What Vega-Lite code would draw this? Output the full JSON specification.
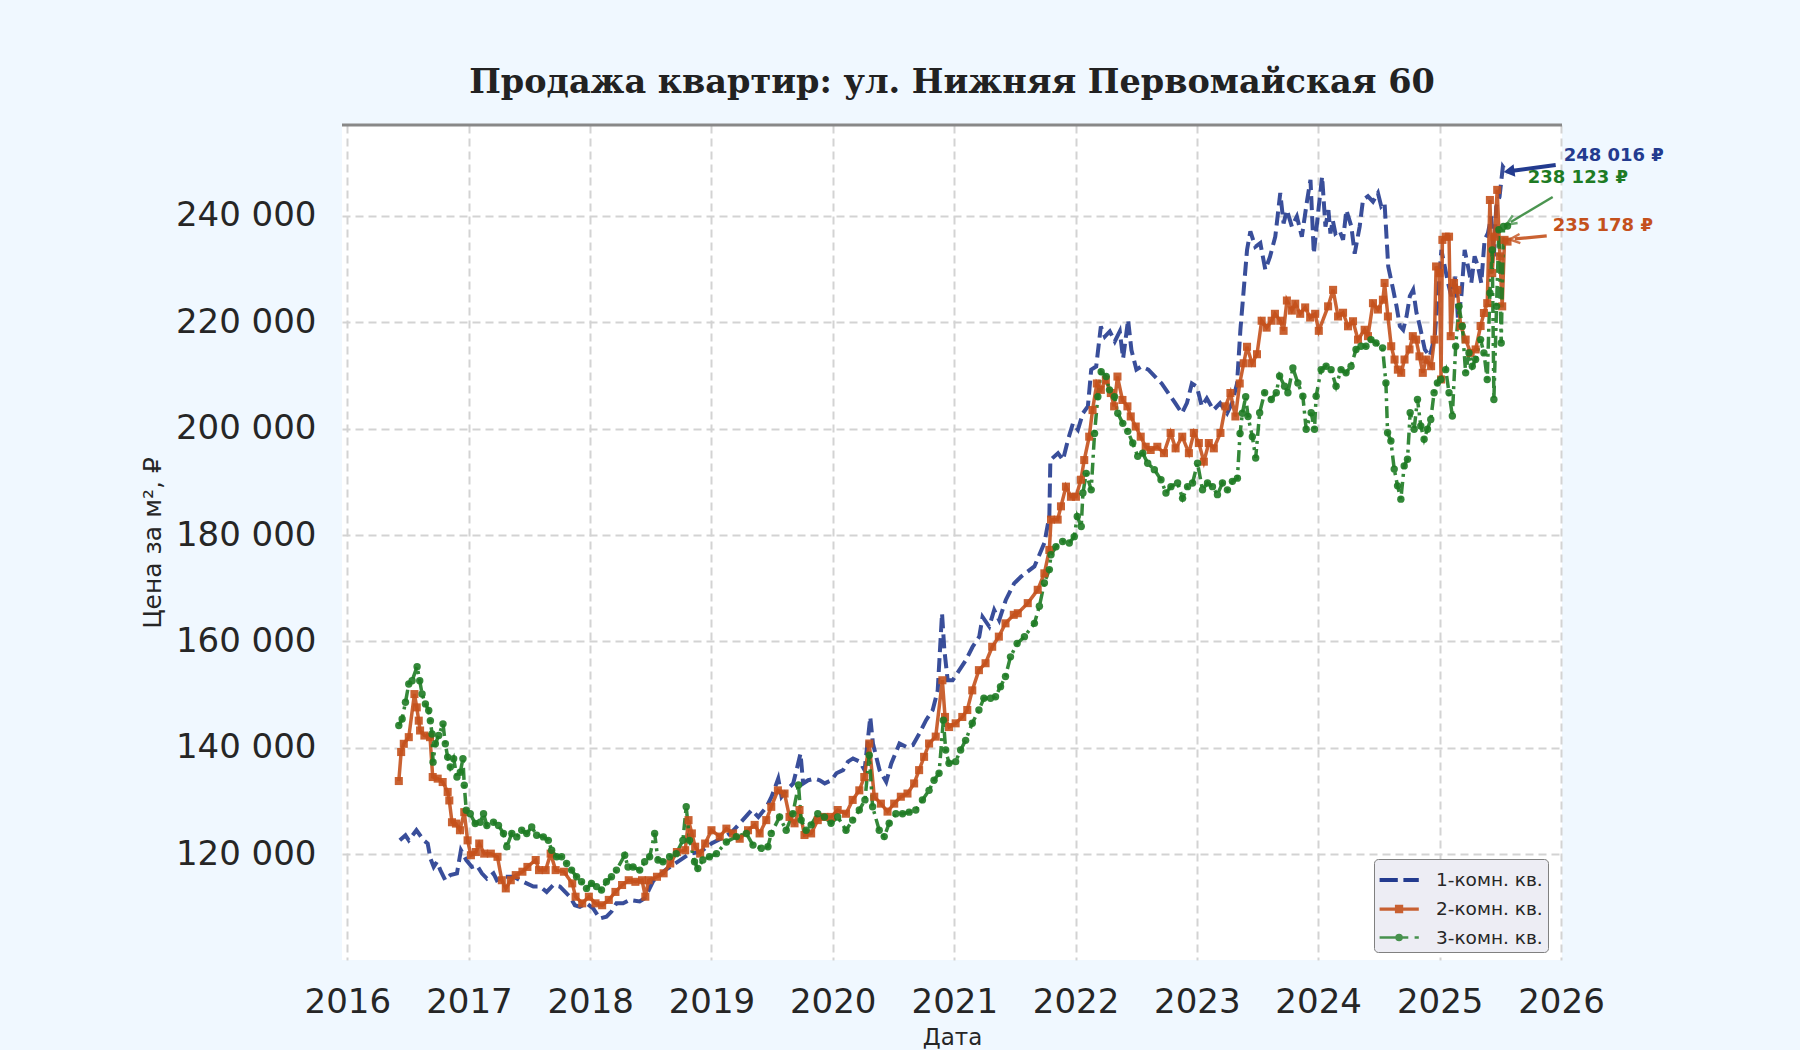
{
"$schema":"https://vega.github.io/schema/vega-lite/v6.json",
"width":1220,"height":835,
"autosize":"none",
"padding":{"left":342,"top":125,"right":238,"bottom":90},
"background":"#f0f8ff",
"config":{"view":{"fill":"#ffffff","stroke":null},"font":"DejaVu Sans"},
"title":{"text":"Продажа квартир: ул. Нижняя Первомайская 60","font":"DejaVu Serif","fontSize":33.5,"fontWeight":"bold","color":"#222222","anchor":"middle","offset":23},
"datasets":{
"ann":[
{"s":"1","d1":"2025-12-16","v1":249590,"d2":"2025-08-03","v2":248460,"td":"2026-01-09","tv":251280,"t":"248 016 ₽"},
{"s":"3","d1":"2025-12-07","v1":243570,"d2":"2025-08-03","v2":238870,"td":"2025-09-23","tv":247150,"t":"238 123 ₽"},
{"s":"2","d1":"2025-11-19","v1":236240,"d2":"2025-08-15","v2":235670,"td":"2025-12-07","tv":238120,"t":"235 178 ₽"}
],
"p":[
{"d":"2016-06-07","s":"1","v":122600},{"d":"2016-06-24","s":"1","v":123550},{"d":"2016-07-04","s":"1","v":122600},{"d":"2016-07-27","s":"1","v":124500},{"d":"2016-08-18","s":"1","v":122600},{"d":"2016-08-30","s":"1","v":122000},{"d":"2016-09-07","s":"1","v":119200},{"d":"2016-09-17","s":"1","v":117600},{"d":"2016-09-27","s":"1","v":118560},{"d":"2016-10-07","s":"1","v":117000},{"d":"2016-10-22","s":"1","v":115100},{"d":"2016-11-06","s":"1","v":116060},{"d":"2016-11-26","s":"1","v":116400},{"d":"2016-12-08","s":"1","v":120750},{"d":"2016-12-24","s":"1","v":118900},
{"d":"2017-01-10","s":"1","v":117600},{"d":"2017-01-25","s":"1","v":117900},{"d":"2017-02-09","s":"1","v":116400},{"d":"2017-02-24","s":"1","v":115400},{"d":"2017-03-16","s":"1","v":116400},{"d":"2017-03-26","s":"1","v":115100},{"d":"2017-04-15","s":"1","v":115750},{"d":"2017-05-15","s":"1","v":115750},{"d":"2017-06-14","s":"1","v":114800},{"d":"2017-07-14","s":"1","v":113900},{"d":"2017-08-03","s":"1","v":113900},{"d":"2017-08-23","s":"1","v":112900},{"d":"2017-09-12","s":"1","v":114200},{"d":"2017-10-02","s":"1","v":113900},{"d":"2017-11-01","s":"1","v":112000},{"d":"2017-11-16","s":"1","v":110400},{"d":"2017-12-01","s":"1","v":110100},{"d":"2017-12-21","s":"1","v":110750},
{"d":"2018-01-10","s":"1","v":109800},{"d":"2018-01-30","s":"1","v":107900},{"d":"2018-02-19","s":"1","v":108250},{"d":"2018-03-06","s":"1","v":109200},{"d":"2018-03-21","s":"1","v":110750},{"d":"2018-04-10","s":"1","v":110750},{"d":"2018-04-30","s":"1","v":111400},{"d":"2018-05-30","s":"1","v":111100},{"d":"2018-06-14","s":"1","v":111700},{"d":"2018-07-10","s":"1","v":115000},{"d":"2018-08-15","s":"1","v":117000},{"d":"2018-09-20","s":"1","v":118500},{"d":"2018-10-25","s":"1","v":120000},{"d":"2018-12-01","s":"1","v":120500},
{"d":"2019-01-01","s":"1","v":122000},{"d":"2019-02-01","s":"1","v":123000},{"d":"2019-03-01","s":"1","v":124000},{"d":"2019-03-27","s":"1","v":125770},{"d":"2019-05-02","s":"1","v":128280},{"d":"2019-05-22","s":"1","v":127000},{"d":"2019-06-16","s":"1","v":128900},{"d":"2019-07-01","s":"1","v":130800},{"d":"2019-07-21","s":"1","v":134200},{"d":"2019-07-31","s":"1","v":130800},{"d":"2019-08-15","s":"1","v":132000},{"d":"2019-09-04","s":"1","v":133300},{"d":"2019-09-14","s":"1","v":135800},{"d":"2019-09-26","s":"1","v":138900},{"d":"2019-10-04","s":"1","v":133300},{"d":"2019-10-19","s":"1","v":133900},{"d":"2019-11-08","s":"1","v":134200},{"d":"2019-11-23","s":"1","v":133900},{"d":"2019-12-08","s":"1","v":133300},{"d":"2019-12-28","s":"1","v":133900},
{"d":"2020-01-12","s":"1","v":135200},{"d":"2020-02-01","s":"1","v":135800},{"d":"2020-02-16","s":"1","v":137400},{"d":"2020-03-02","s":"1","v":138000},{"d":"2020-03-22","s":"1","v":137400},{"d":"2020-04-06","s":"1","v":135800},{"d":"2020-04-23","s":"1","v":145800},{"d":"2020-05-01","s":"1","v":140800},{"d":"2020-05-21","s":"1","v":135800},{"d":"2020-06-10","s":"1","v":133600},{"d":"2020-06-25","s":"1","v":137000},{"d":"2020-07-20","s":"1","v":140800},{"d":"2020-08-09","s":"1","v":140200},{"d":"2020-08-29","s":"1","v":140500},{"d":"2020-09-18","s":"1","v":142700},{"d":"2020-10-08","s":"1","v":145200},{"d":"2020-10-28","s":"1","v":147100},{"d":"2020-11-12","s":"1","v":150800},{"d":"2020-11-25","s":"1","v":165300},{"d":"2020-12-02","s":"1","v":158400},{"d":"2020-12-12","s":"1","v":152700},{"d":"2020-12-27","s":"1","v":152700},
{"d":"2021-01-16","s":"1","v":154600},{"d":"2021-02-05","s":"1","v":156500},{"d":"2021-02-25","s":"1","v":159000},{"d":"2021-03-17","s":"1","v":160900},{"d":"2021-03-27","s":"1","v":164600},{"d":"2021-04-16","s":"1","v":162800},{"d":"2021-05-01","s":"1","v":165900},{"d":"2021-05-16","s":"1","v":164000},{"d":"2021-06-05","s":"1","v":167800},{"d":"2021-06-30","s":"1","v":170900},{"d":"2021-07-21","s":"1","v":172200},{"d":"2021-08-30","s":"1","v":174100},{"d":"2021-09-29","s":"1","v":178500},{"d":"2021-10-14","s":"1","v":183500},{"d":"2021-10-17","s":"1","v":194100},{"d":"2021-11-09","s":"1","v":195400},{"d":"2021-11-24","s":"1","v":194100},{"d":"2021-12-09","s":"1","v":197900},{"d":"2021-12-24","s":"1","v":201000},
{"d":"2022-01-08","s":"1","v":199800},{"d":"2022-01-23","s":"1","v":202900},{"d":"2022-02-07","s":"1","v":204200},{"d":"2022-02-17","s":"1","v":211100},{"d":"2022-03-04","s":"1","v":211700},{"d":"2022-03-18","s":"1","v":219200},{"d":"2022-03-30","s":"1","v":217300},{"d":"2022-04-14","s":"1","v":218300},{"d":"2022-04-29","s":"1","v":216400},{"d":"2022-05-14","s":"1","v":218300},{"d":"2022-05-24","s":"1","v":213200},{"d":"2022-06-08","s":"1","v":220500},{"d":"2022-06-18","s":"1","v":214800},{"d":"2022-07-03","s":"1","v":211100},{"d":"2022-07-18","s":"1","v":211700},{"d":"2022-08-08","s":"1","v":211100},{"d":"2022-08-28","s":"1","v":209800},{"d":"2022-09-17","s":"1","v":208500},{"d":"2022-10-07","s":"1","v":206700},{"d":"2022-10-28","s":"1","v":204800},{"d":"2022-11-17","s":"1","v":202900},{"d":"2022-12-02","s":"1","v":204800},{"d":"2022-12-17","s":"1","v":208500},
{"d":"2023-01-01","s":"1","v":207900},{"d":"2023-01-16","s":"1","v":204200},{"d":"2023-01-31","s":"1","v":205700},{"d":"2023-02-20","s":"1","v":203500},{"d":"2023-03-12","s":"1","v":204800},{"d":"2023-04-02","s":"1","v":202900},{"d":"2023-04-17","s":"1","v":204800},{"d":"2023-05-02","s":"1","v":208500},{"d":"2023-05-12","s":"1","v":218600},{"d":"2023-05-22","s":"1","v":226100},{"d":"2023-06-01","s":"1","v":233600},{"d":"2023-06-11","s":"1","v":237100},{"d":"2023-06-26","s":"1","v":234200},{"d":"2023-07-11","s":"1","v":234900},{"d":"2023-07-26","s":"1","v":229900},{"d":"2023-08-09","s":"1","v":232300},{"d":"2023-08-25","s":"1","v":236100},{"d":"2023-09-09","s":"1","v":244300},{"d":"2023-09-19","s":"1","v":238600},{"d":"2023-09-29","s":"1","v":241100},{"d":"2023-10-14","s":"1","v":238000},{"d":"2023-10-29","s":"1","v":239900},{"d":"2023-11-13","s":"1","v":236100},{"d":"2023-11-29","s":"1","v":243000},{"d":"2023-12-09","s":"1","v":246800},{"d":"2023-12-19","s":"1","v":232900},
{"d":"2024-01-03","s":"1","v":241800},{"d":"2024-01-13","s":"1","v":247400},{"d":"2024-01-23","s":"1","v":238000},{"d":"2024-02-01","s":"1","v":241100},{"d":"2024-02-07","s":"1","v":236700},{"d":"2024-02-14","s":"1","v":239200},{"d":"2024-02-22","s":"1","v":236700},{"d":"2024-03-05","s":"1","v":237300},{"d":"2024-03-16","s":"1","v":235500},{"d":"2024-03-26","s":"1","v":241100},{"d":"2024-04-10","s":"1","v":238000},{"d":"2024-04-20","s":"1","v":232900},{"d":"2024-05-05","s":"1","v":238000},{"d":"2024-05-15","s":"1","v":243000},{"d":"2024-05-30","s":"1","v":243700},{"d":"2024-06-14","s":"1","v":242700},{"d":"2024-06-29","s":"1","v":244300},{"d":"2024-07-09","s":"1","v":241800},{"d":"2024-07-19","s":"1","v":242400},{"d":"2024-07-30","s":"1","v":230500},{"d":"2024-08-14","s":"1","v":226100},{"d":"2024-08-24","s":"1","v":223000},{"d":"2024-09-03","s":"1","v":219300},{"d":"2024-09-13","s":"1","v":218600},{"d":"2024-09-23","s":"1","v":221100},{"d":"2024-10-03","s":"1","v":224900},{"d":"2024-10-13","s":"1","v":226100},{"d":"2024-10-23","s":"1","v":221800},{"d":"2024-11-02","s":"1","v":219300},{"d":"2024-11-17","s":"1","v":214900},{"d":"2024-12-02","s":"1","v":213600},{"d":"2024-12-17","s":"1","v":217400},{"d":"2024-12-27","s":"1","v":225500},
{"d":"2025-01-06","s":"1","v":233600},{"d":"2025-01-16","s":"1","v":230500},{"d":"2025-01-26","s":"1","v":227400},{"d":"2025-02-05","s":"1","v":224900},{"d":"2025-02-17","s":"1","v":228600},{"d":"2025-02-25","s":"1","v":220500},{"d":"2025-03-07","s":"1","v":224900},{"d":"2025-03-17","s":"1","v":233600},{"d":"2025-03-27","s":"1","v":230500},{"d":"2025-04-06","s":"1","v":227400},{"d":"2025-04-16","s":"1","v":232400},{"d":"2025-04-26","s":"1","v":230500},{"d":"2025-05-06","s":"1","v":227400},{"d":"2025-05-16","s":"1","v":235500},{"d":"2025-05-26","s":"1","v":236750},{"d":"2025-06-05","s":"1","v":239900},{"d":"2025-06-13","s":"1","v":232400},{"d":"2025-06-20","s":"1","v":241750},{"d":"2025-06-30","s":"1","v":243600},{"d":"2025-07-10","s":"1","v":249250},{"d":"2025-07-24","s":"1","v":248016},

{"d":"2016-06-04","s":"2","v":133750},{"d":"2016-06-11","s":"2","v":139200},{"d":"2016-06-19","s":"2","v":140750},{"d":"2016-07-04","s":"2","v":142000},{"d":"2016-07-21","s":"2","v":150100},{"d":"2016-07-28","s":"2","v":147600},{"d":"2016-08-03","s":"2","v":145100},{"d":"2016-08-07","s":"2","v":143250},{"d":"2016-08-20","s":"2","v":142300},{"d":"2016-09-06","s":"2","v":142000},{"d":"2016-09-14","s":"2","v":134500},{"d":"2016-09-29","s":"2","v":134200},{"d":"2016-10-14","s":"2","v":133560},{"d":"2016-10-29","s":"2","v":131700},{"d":"2016-11-03","s":"2","v":130100},{"d":"2016-11-11","s":"2","v":126000},{"d":"2016-11-23","s":"2","v":125750},{"d":"2016-12-05","s":"2","v":124500},{"d":"2016-12-18","s":"2","v":127900},{"d":"2016-12-28","s":"2","v":122600},
{"d":"2017-01-07","s":"2","v":119800},{"d":"2017-01-22","s":"2","v":120400},{"d":"2017-02-01","s":"2","v":122000},{"d":"2017-02-16","s":"2","v":120100},{"d":"2017-03-08","s":"2","v":120100},{"d":"2017-03-28","s":"2","v":119500},{"d":"2017-04-10","s":"2","v":115100},{"d":"2017-04-22","s":"2","v":113560},{"d":"2017-05-07","s":"2","v":115100},{"d":"2017-05-22","s":"2","v":116060},{"d":"2017-06-11","s":"2","v":116700},{"d":"2017-06-26","s":"2","v":117600},{"d":"2017-07-21","s":"2","v":118900},{"d":"2017-07-31","s":"2","v":117000},{"d":"2017-08-20","s":"2","v":117000},{"d":"2017-09-04","s":"2","v":120100},{"d":"2017-09-19","s":"2","v":117000},{"d":"2017-10-14","s":"2","v":116700},{"d":"2017-11-08","s":"2","v":114500},{"d":"2017-11-18","s":"2","v":112000},{"d":"2017-12-08","s":"2","v":110750},{"d":"2017-12-28","s":"2","v":112000},
{"d":"2018-01-17","s":"2","v":110750},{"d":"2018-02-06","s":"2","v":110400},{"d":"2018-02-26","s":"2","v":111400},{"d":"2018-03-18","s":"2","v":112900},{"d":"2018-04-07","s":"2","v":114200},{"d":"2018-04-27","s":"2","v":115100},{"d":"2018-05-17","s":"2","v":114800},{"d":"2018-06-06","s":"2","v":115100},{"d":"2018-06-16","s":"2","v":112000},{"d":"2018-06-26","s":"2","v":115100},{"d":"2018-07-21","s":"2","v":115750},{"d":"2018-08-10","s":"2","v":116400},{"d":"2018-08-30","s":"2","v":118250},{"d":"2018-09-19","s":"2","v":120400},{"d":"2018-10-14","s":"2","v":120750},{"d":"2018-10-24","s":"2","v":126400},{"d":"2018-11-03","s":"2","v":123900},{"d":"2018-11-13","s":"2","v":121400},{"d":"2018-11-28","s":"2","v":120100},{"d":"2018-12-13","s":"2","v":122000},
{"d":"2019-01-01","s":"2","v":124500},{"d":"2019-01-26","s":"2","v":123300},{"d":"2019-02-15","s":"2","v":124800},{"d":"2019-03-07","s":"2","v":123900},{"d":"2019-03-27","s":"2","v":122900},{"d":"2019-04-21","s":"2","v":124500},{"d":"2019-05-11","s":"2","v":125500},{"d":"2019-05-26","s":"2","v":123900},{"d":"2019-06-15","s":"2","v":126400},{"d":"2019-06-30","s":"2","v":128900},{"d":"2019-07-20","s":"2","v":132000},{"d":"2019-08-09","s":"2","v":131400},{"d":"2019-08-24","s":"2","v":127000},{"d":"2019-09-08","s":"2","v":125800},{"d":"2019-09-23","s":"2","v":128300},{"d":"2019-10-08","s":"2","v":123600},{"d":"2019-10-28","s":"2","v":123900},{"d":"2019-11-17","s":"2","v":126400},{"d":"2019-12-07","s":"2","v":127000},{"d":"2019-12-27","s":"2","v":127000},
{"d":"2020-01-16","s":"2","v":128300},{"d":"2020-02-10","s":"2","v":127600},{"d":"2020-03-01","s":"2","v":130200},{"d":"2020-03-21","s":"2","v":132000},{"d":"2020-04-05","s":"2","v":134500},{"d":"2020-04-20","s":"2","v":140800},{"d":"2020-05-05","s":"2","v":130800},{"d":"2020-05-25","s":"2","v":129500},{"d":"2020-06-14","s":"2","v":128000},{"d":"2020-07-04","s":"2","v":129500},{"d":"2020-07-24","s":"2","v":130800},{"d":"2020-08-13","s":"2","v":131400},{"d":"2020-09-02","s":"2","v":133300},{"d":"2020-09-17","s":"2","v":135800},{"d":"2020-10-02","s":"2","v":138300},{"d":"2020-10-17","s":"2","v":140800},{"d":"2020-11-06","s":"2","v":142100},{"d":"2020-11-26","s":"2","v":152700},{"d":"2020-12-04","s":"2","v":145800},{"d":"2020-12-16","s":"2","v":143900},
{"d":"2021-01-05","s":"2","v":144600},{"d":"2021-01-25","s":"2","v":145800},{"d":"2021-02-09","s":"2","v":147100},{"d":"2021-02-24","s":"2","v":150800},{"d":"2021-03-16","s":"2","v":154600},{"d":"2021-04-05","s":"2","v":155900},{"d":"2021-04-25","s":"2","v":159000},{"d":"2021-05-15","s":"2","v":160900},{"d":"2021-06-04","s":"2","v":163400},{"d":"2021-06-29","s":"2","v":165000},{"d":"2021-07-11","s":"2","v":165300},{"d":"2021-08-10","s":"2","v":167200},{"d":"2021-09-09","s":"2","v":169700},{"d":"2021-09-29","s":"2","v":172800},{"d":"2021-10-14","s":"2","v":177200},{"d":"2021-10-19","s":"2","v":182900},{"d":"2021-11-08","s":"2","v":182900},{"d":"2021-11-18","s":"2","v":185400},{"d":"2021-12-03","s":"2","v":189100},{"d":"2021-12-18","s":"2","v":187200},
{"d":"2022-01-02","s":"2","v":187200},{"d":"2022-01-17","s":"2","v":190400},{"d":"2022-01-27","s":"2","v":194100},{"d":"2022-02-11","s":"2","v":198500},{"d":"2022-02-21","s":"2","v":203500},{"d":"2022-03-06","s":"2","v":208500},{"d":"2022-03-18","s":"2","v":207300},{"d":"2022-04-02","s":"2","v":209200},{"d":"2022-04-17","s":"2","v":206700},{"d":"2022-04-27","s":"2","v":204200},{"d":"2022-05-07","s":"2","v":209800},{"d":"2022-05-22","s":"2","v":205400},{"d":"2022-06-06","s":"2","v":204200},{"d":"2022-06-16","s":"2","v":202300},{"d":"2022-07-01","s":"2","v":200400},{"d":"2022-07-16","s":"2","v":198500},{"d":"2022-07-31","s":"2","v":196600},{"d":"2022-08-15","s":"2","v":196000},{"d":"2022-09-04","s":"2","v":196600},{"d":"2022-09-24","s":"2","v":195400},{"d":"2022-10-14","s":"2","v":199200},{"d":"2022-10-29","s":"2","v":196300},{"d":"2022-11-18","s":"2","v":198500},{"d":"2022-12-08","s":"2","v":195400},{"d":"2022-12-23","s":"2","v":199200},
{"d":"2023-01-07","s":"2","v":197300},{"d":"2023-01-22","s":"2","v":193800},{"d":"2023-02-06","s":"2","v":197300},{"d":"2023-02-21","s":"2","v":196300},{"d":"2023-03-13","s":"2","v":199200},{"d":"2023-03-28","s":"2","v":204200},{"d":"2023-04-12","s":"2","v":206700},{"d":"2023-04-27","s":"2","v":202300},{"d":"2023-05-10","s":"2","v":208500},{"d":"2023-05-22","s":"2","v":212300},{"d":"2023-06-01","s":"2","v":215400},{"d":"2023-06-16","s":"2","v":212300},{"d":"2023-07-01","s":"2","v":214000},{"d":"2023-07-15","s":"2","v":220300},{"d":"2023-07-30","s":"2","v":219000},{"d":"2023-08-14","s":"2","v":220300},{"d":"2023-08-24","s":"2","v":221600},{"d":"2023-09-09","s":"2","v":220300},{"d":"2023-09-19","s":"2","v":218400},{"d":"2023-09-29","s":"2","v":224100},{"d":"2023-10-14","s":"2","v":222200},{"d":"2023-10-24","s":"2","v":223500},{"d":"2023-11-08","s":"2","v":221600},{"d":"2023-11-23","s":"2","v":222800},{"d":"2023-12-08","s":"2","v":220900},{"d":"2023-12-23","s":"2","v":221600},
{"d":"2024-01-03","s":"2","v":218400},{"d":"2024-01-31","s":"2","v":223000},{"d":"2024-02-15","s":"2","v":226100},{"d":"2024-03-01","s":"2","v":221100},{"d":"2024-03-16","s":"2","v":221800},{"d":"2024-03-31","s":"2","v":219250},{"d":"2024-04-15","s":"2","v":220200},{"d":"2024-04-30","s":"2","v":216750},{"d":"2024-05-20","s":"2","v":218600},{"d":"2024-05-30","s":"2","v":217400},{"d":"2024-06-14","s":"2","v":223600},{"d":"2024-06-29","s":"2","v":222400},{"d":"2024-07-14","s":"2","v":224250},{"d":"2024-07-19","s":"2","v":227400},{"d":"2024-07-29","s":"2","v":221100},{"d":"2024-08-08","s":"2","v":215500},{"d":"2024-08-18","s":"2","v":213000},{"d":"2024-08-28","s":"2","v":211100},{"d":"2024-09-07","s":"2","v":210500},{"d":"2024-09-17","s":"2","v":213000},{"d":"2024-10-02","s":"2","v":214900},{"d":"2024-10-12","s":"2","v":217400},{"d":"2024-10-22","s":"2","v":216750},{"d":"2024-11-01","s":"2","v":213600},{"d":"2024-11-11","s":"2","v":210500},{"d":"2024-11-21","s":"2","v":213000},{"d":"2024-12-06","s":"2","v":211750},{"d":"2024-12-16","s":"2","v":216750},{"d":"2024-12-21","s":"2","v":230500},{"d":"2024-12-31","s":"2","v":229250},
{"d":"2025-01-05","s":"2","v":209250},{"d":"2025-01-09","s":"2","v":235500},{"d":"2025-01-19","s":"2","v":236100},{"d":"2025-01-29","s":"2","v":236100},{"d":"2025-02-03","s":"2","v":217400},{"d":"2025-02-13","s":"2","v":227400},{"d":"2025-02-23","s":"2","v":226100},{"d":"2025-03-05","s":"2","v":219300},{"d":"2025-03-20","s":"2","v":216750},{"d":"2025-04-04","s":"2","v":214250},{"d":"2025-04-19","s":"2","v":214900},{"d":"2025-05-04","s":"2","v":219300},{"d":"2025-05-14","s":"2","v":221750},{"d":"2025-05-24","s":"2","v":223600},{"d":"2025-06-01","s":"2","v":243000},{"d":"2025-06-08","s":"2","v":229250},{"d":"2025-06-15","s":"2","v":236100},{"d":"2025-06-23","s":"2","v":244900},{"d":"2025-07-01","s":"2","v":232400},{"d":"2025-07-08","s":"2","v":223000},{"d":"2025-07-15","s":"2","v":235500},{"d":"2025-07-24","s":"2","v":235178},

{"d":"2016-06-04","s":"3","v":144200},{"d":"2016-06-14","s":"3","v":145400},{"d":"2016-06-24","s":"3","v":148550},{"d":"2016-07-04","s":"3","v":152000},{"d":"2016-07-14","s":"3","v":152600},{"d":"2016-07-29","s":"3","v":155250},{"d":"2016-08-06","s":"3","v":152600},{"d":"2016-08-13","s":"3","v":150100},{"d":"2016-08-23","s":"3","v":148250},{"d":"2016-09-02","s":"3","v":147000},{"d":"2016-09-07","s":"3","v":145100},{"d":"2016-09-12","s":"3","v":142600},{"d":"2016-09-15","s":"3","v":137300},{"d":"2016-09-22","s":"3","v":140750},{"d":"2016-10-02","s":"3","v":142300},{"d":"2016-10-15","s":"3","v":144500},{"d":"2016-10-22","s":"3","v":140750},{"d":"2016-10-29","s":"3","v":138250},{"d":"2016-11-06","s":"3","v":136400},{"d":"2016-11-16","s":"3","v":137950},{"d":"2016-11-26","s":"3","v":134500},{"d":"2016-12-06","s":"3","v":135400},{"d":"2016-12-14","s":"3","v":137950},{"d":"2016-12-18","s":"3","v":132950},{"d":"2016-12-24","s":"3","v":128250},
{"d":"2017-01-05","s":"3","v":127600},{"d":"2017-01-20","s":"3","v":125750},{"d":"2017-02-04","s":"3","v":126000},{"d":"2017-02-14","s":"3","v":127600},{"d":"2017-02-24","s":"3","v":125400},{"d":"2017-03-16","s":"3","v":126000},{"d":"2017-03-31","s":"3","v":125400},{"d":"2017-04-15","s":"3","v":123900},{"d":"2017-04-25","s":"3","v":121400},{"d":"2017-05-10","s":"3","v":123900},{"d":"2017-05-25","s":"3","v":123250},{"d":"2017-06-09","s":"3","v":124500},{"d":"2017-06-24","s":"3","v":123900},{"d":"2017-07-09","s":"3","v":125100},{"d":"2017-07-24","s":"3","v":123550},{"d":"2017-08-13","s":"3","v":123250},{"d":"2017-08-28","s":"3","v":122600},{"d":"2017-09-07","s":"3","v":120750},{"d":"2017-09-22","s":"3","v":119500},{"d":"2017-10-07","s":"3","v":119500},{"d":"2017-10-22","s":"3","v":118250},{"d":"2017-11-06","s":"3","v":117000},{"d":"2017-11-21","s":"3","v":115750},{"d":"2017-12-06","s":"3","v":114800},{"d":"2017-12-21","s":"3","v":113560},
{"d":"2018-01-05","s":"3","v":114500},{"d":"2018-01-20","s":"3","v":113900},{"d":"2018-02-04","s":"3","v":113250},{"d":"2018-02-19","s":"3","v":114800},{"d":"2018-03-06","s":"3","v":115750},{"d":"2018-03-21","s":"3","v":117000},{"d":"2018-04-15","s":"3","v":119800},{"d":"2018-04-25","s":"3","v":117600},{"d":"2018-05-10","s":"3","v":117600},{"d":"2018-05-30","s":"3","v":117000},{"d":"2018-06-14","s":"3","v":118560},{"d":"2018-06-29","s":"3","v":119500},{"d":"2018-07-14","s":"3","v":123900},{"d":"2018-07-24","s":"3","v":118900},{"d":"2018-08-08","s":"3","v":118560},{"d":"2018-08-28","s":"3","v":119500},{"d":"2018-09-17","s":"3","v":120100},{"d":"2018-10-07","s":"3","v":122600},{"d":"2018-10-17","s":"3","v":128900},{"d":"2018-10-27","s":"3","v":122600},{"d":"2018-11-11","s":"3","v":118560},{"d":"2018-11-21","s":"3","v":117300},{"d":"2018-12-06","s":"3","v":118900},{"d":"2018-12-26","s":"3","v":119500},
{"d":"2019-01-16","s":"3","v":120100},{"d":"2019-02-15","s":"3","v":122300},{"d":"2019-03-17","s":"3","v":123300},{"d":"2019-04-16","s":"3","v":123900},{"d":"2019-05-06","s":"3","v":121700},{"d":"2019-05-31","s":"3","v":121100},{"d":"2019-06-20","s":"3","v":121400},{"d":"2019-06-30","s":"3","v":123900},{"d":"2019-07-25","s":"3","v":127000},{"d":"2019-08-14","s":"3","v":124500},{"d":"2019-09-03","s":"3","v":127600},{"d":"2019-09-20","s":"3","v":133000},{"d":"2019-09-28","s":"3","v":126400},{"d":"2019-10-13","s":"3","v":124500},{"d":"2019-10-28","s":"3","v":125500},{"d":"2019-11-17","s":"3","v":127600},{"d":"2019-12-07","s":"3","v":127000},{"d":"2019-12-27","s":"3","v":125800},
{"d":"2020-01-16","s":"3","v":127000},{"d":"2020-02-10","s":"3","v":124500},{"d":"2020-03-01","s":"3","v":126400},{"d":"2020-03-21","s":"3","v":128300},{"d":"2020-04-07","s":"3","v":130200},{"d":"2020-04-20","s":"3","v":138600},{"d":"2020-04-30","s":"3","v":128900},{"d":"2020-05-20","s":"3","v":124500},{"d":"2020-06-04","s":"3","v":123300},{"d":"2020-06-19","s":"3","v":125800},{"d":"2020-07-09","s":"3","v":127600},{"d":"2020-07-29","s":"3","v":127600},{"d":"2020-08-18","s":"3","v":127900},{"d":"2020-09-07","s":"3","v":128300},{"d":"2020-09-27","s":"3","v":130200},{"d":"2020-10-17","s":"3","v":132000},{"d":"2020-11-01","s":"3","v":133900},{"d":"2020-11-16","s":"3","v":135200},{"d":"2020-11-29","s":"3","v":145200},{"d":"2020-12-06","s":"3","v":139600},{"d":"2020-12-16","s":"3","v":137100},
{"d":"2021-01-05","s":"3","v":137400},{"d":"2021-01-20","s":"3","v":139600},{"d":"2021-02-04","s":"3","v":141400},{"d":"2021-02-24","s":"3","v":144600},{"d":"2021-03-16","s":"3","v":147100},{"d":"2021-03-31","s":"3","v":149300},{"d":"2021-04-20","s":"3","v":149300},{"d":"2021-05-05","s":"3","v":149600},{"d":"2021-05-20","s":"3","v":151500},{"d":"2021-06-04","s":"3","v":153400},{"d":"2021-06-19","s":"3","v":157100},{"d":"2021-07-09","s":"3","v":159600},{"d":"2021-07-31","s":"3","v":160900},{"d":"2021-08-30","s":"3","v":163400},{"d":"2021-09-14","s":"3","v":166600},{"d":"2021-09-29","s":"3","v":171000},{"d":"2021-10-14","s":"3","v":173500},{"d":"2021-10-19","s":"3","v":176300},{"d":"2021-11-03","s":"3","v":177800},{"d":"2021-11-23","s":"3","v":178800},{"d":"2021-12-13","s":"3","v":178500},{"d":"2021-12-28","s":"3","v":179700},
{"d":"2022-01-06","s":"3","v":183500},{"d":"2022-01-18","s":"3","v":181600},{"d":"2022-01-23","s":"3","v":187900},{"d":"2022-02-02","s":"3","v":191600},{"d":"2022-02-17","s":"3","v":188500},{"d":"2022-02-27","s":"3","v":199100},{"d":"2022-03-09","s":"3","v":206000},{"d":"2022-03-19","s":"3","v":210700},{"d":"2022-04-03","s":"3","v":209800},{"d":"2022-04-13","s":"3","v":207300},{"d":"2022-04-28","s":"3","v":206000},{"d":"2022-05-08","s":"3","v":202900},{"d":"2022-05-23","s":"3","v":201000},{"d":"2022-06-07","s":"3","v":199500},{"d":"2022-06-22","s":"3","v":197300},{"d":"2022-07-07","s":"3","v":194800},{"d":"2022-07-22","s":"3","v":195400},{"d":"2022-08-06","s":"3","v":193500},{"d":"2022-08-26","s":"3","v":192300},{"d":"2022-09-15","s":"3","v":190400},{"d":"2022-09-30","s":"3","v":187900},{"d":"2022-10-15","s":"3","v":189100},{"d":"2022-11-04","s":"3","v":189800},{"d":"2022-11-19","s":"3","v":186900},{"d":"2022-12-04","s":"3","v":189100},{"d":"2022-12-19","s":"3","v":189800},
{"d":"2023-01-03","s":"3","v":193500},{"d":"2023-01-18","s":"3","v":188500},{"d":"2023-02-02","s":"3","v":189800},{"d":"2023-02-17","s":"3","v":189100},{"d":"2023-03-04","s":"3","v":187600},{"d":"2023-03-19","s":"3","v":189800},{"d":"2023-04-03","s":"3","v":188500},{"d":"2023-04-18","s":"3","v":190100},{"d":"2023-05-03","s":"3","v":190700},{"d":"2023-05-11","s":"3","v":199100},{"d":"2023-05-18","s":"3","v":202900},{"d":"2023-05-28","s":"3","v":206000},{"d":"2023-06-04","s":"3","v":202300},{"d":"2023-06-17","s":"3","v":198500},{"d":"2023-06-27","s":"3","v":194500},{"d":"2023-07-09","s":"3","v":203000},{"d":"2023-07-24","s":"3","v":206750},{"d":"2023-08-13","s":"3","v":205500},{"d":"2023-08-28","s":"3","v":206750},{"d":"2023-09-07","s":"3","v":209900},{"d":"2023-09-22","s":"3","v":208000},{"d":"2023-10-02","s":"3","v":206750},{"d":"2023-10-17","s":"3","v":211400},{"d":"2023-11-01","s":"3","v":208600},{"d":"2023-11-16","s":"3","v":206100},{"d":"2023-11-26","s":"3","v":199900},{"d":"2023-12-11","s":"3","v":203000},{"d":"2023-12-21","s":"3","v":199900},{"d":"2023-12-26","s":"3","v":206100},
{"d":"2024-01-10","s":"3","v":211100},{"d":"2024-01-25","s":"3","v":211750},{"d":"2024-02-09","s":"3","v":211100},{"d":"2024-02-24","s":"3","v":208000},{"d":"2024-03-10","s":"3","v":211100},{"d":"2024-03-25","s":"3","v":210500},{"d":"2024-04-09","s":"3","v":211750},{"d":"2024-04-24","s":"3","v":214900},{"d":"2024-05-09","s":"3","v":215500},{"d":"2024-05-24","s":"3","v":215500},{"d":"2024-06-08","s":"3","v":216750},{"d":"2024-06-23","s":"3","v":216100},{"d":"2024-07-13","s":"3","v":215200},{"d":"2024-07-23","s":"3","v":208600},{"d":"2024-07-28","s":"3","v":199250},{"d":"2024-08-07","s":"3","v":197700},{"d":"2024-08-17","s":"3","v":192400},{"d":"2024-08-27","s":"3","v":189250},{"d":"2024-09-06","s":"3","v":186750},{"d":"2024-09-16","s":"3","v":193000},{"d":"2024-09-26","s":"3","v":194250},{"d":"2024-10-04","s":"3","v":203000},{"d":"2024-10-16","s":"3","v":199900},{"d":"2024-10-26","s":"3","v":205500},{"d":"2024-11-05","s":"3","v":200500},{"d":"2024-11-15","s":"3","v":198000},{"d":"2024-11-25","s":"3","v":199900},{"d":"2024-12-05","s":"3","v":201750},{"d":"2024-12-15","s":"3","v":206750},{"d":"2024-12-25","s":"3","v":208600},
{"d":"2025-01-04","s":"3","v":209250},{"d":"2025-01-19","s":"3","v":211100},{"d":"2025-01-29","s":"3","v":206750},{"d":"2025-02-08","s":"3","v":202400},{"d":"2025-02-18","s":"3","v":215500},{"d":"2025-02-28","s":"3","v":223000},{"d":"2025-03-10","s":"3","v":219250},{"d":"2025-03-20","s":"3","v":210500},{"d":"2025-03-30","s":"3","v":214250},{"d":"2025-04-09","s":"3","v":211750},{"d":"2025-04-19","s":"3","v":213000},{"d":"2025-05-04","s":"3","v":216750},{"d":"2025-05-14","s":"3","v":214250},{"d":"2025-05-24","s":"3","v":209250},{"d":"2025-06-01","s":"3","v":225500},{"d":"2025-06-08","s":"3","v":233600},{"d":"2025-06-13","s":"3","v":205500},{"d":"2025-06-21","s":"3","v":223000},{"d":"2025-06-28","s":"3","v":237400},{"d":"2025-07-05","s":"3","v":216100},{"d":"2025-07-12","s":"3","v":238000},{"d":"2025-07-24","s":"3","v":238123}
]},
"layer":[
{"data":{"name":"ann"},
 "mark":{"type":"point","opacity":0,"filled":false,"size":784},
 "encoding":{
  "x":{"field":"d2","type":"temporal"},"y":{"field":"v2","type":"quantitative"},
  "color":{"field":"s","type":"nominal","scale":{"domain":["1","2","3"],"range":["#233b8f","#c4511c","#1e7b24"]},
   "legend":{"orient":"none","legendX":1032,"legendY":734,"title":null,"labelExpr":"datum.label + '-комн. кв.'","labelFont":"DejaVu Sans","labelFontSize":18.5,"labelColor":"#262626","symbolSize":784,"symbolStrokeWidth":3.5,"symbolOpacity":1,"symbolFillColor":"transparent","labelOffset":25,"padding":5,"rowPadding":3,"fillColor":"#ededf4","strokeColor":"#808080","cornerRadius":4}},
  "shape":{"field":"s","type":"nominal","scale":{"domain":["1","2","3"],"range":["M-1.1,0H0.2M0.6,0H1.7","M-1.1,0H1.7M0.11,-0.18H0.47V0.18H0.11Z","M-1.1,0H0.95M1.4,0H1.7M0.11,0A0.18,0.18 0 1,1 0.47,0A0.18,0.18 0 1,1 0.11,0"]}}
 }},
{"data":{"name":"p"},
 "transform":[{"filter":"datum.s === '1'"}],
 "mark":{"type":"line","strokeWidth":4,"opacity":0.9,"strokeDash":[14,6]},
 "encoding":{
  "x":{"field":"d","type":"temporal","scale":{"domain":[{"year":2015,"month":12,"date":16},{"year":2026,"month":1,"date":4}]},
   "axis":{"values":[{"year":2016},{"year":2017},{"year":2018},{"year":2019},{"year":2020},{"year":2021},{"year":2022},{"year":2023},{"year":2024},{"year":2025},{"year":2026}],"format":"%Y","labelFontSize":34,"labelColor":"#262626","labelPadding":25,"ticks":false,"domain":false,"grid":true,"gridDash":[8,5],"gridColor":"#d3d3d3","gridWidth":2,"title":"Дата","titleFontSize":23,"titleFontWeight":"normal","titleColor":"#262626","titlePadding":7,"labelFlush":false}},
  "y":{"field":"v","type":"quantitative","scale":{"domain":[100100,257100],"nice":false,"zero":false},
   "axis":{"values":[120000,140000,160000,180000,200000,220000,240000],"labelExpr":"replace(format(datum.value, ','), ',', ' ')","labelFontSize":34,"labelColor":"#262626","labelPadding":26,"ticks":false,"domain":false,"grid":true,"gridDash":[8,5],"gridColor":"#d3d3d3","gridWidth":2,"title":"Цена за м², ₽","titleFontSize":25,"titleFontWeight":"normal","titleColor":"#262626","titlePadding":10}},
  "color":{"field":"s","type":"nominal","legend":null}
 }},
{"data":{"name":"p"},
 "transform":[{"filter":"datum.s === '2'"}],
 "mark":{"type":"line","strokeWidth":3.5,"opacity":0.9},
 "encoding":{"x":{"field":"d","type":"temporal"},"y":{"field":"v","type":"quantitative"},"color":{"field":"s","type":"nominal","legend":null}}},
{"data":{"name":"p"},
 "transform":[{"filter":"datum.s === '3'"}],
 "mark":{"type":"line","strokeWidth":3.5,"opacity":0.9,"strokeDash":[12,5,3,5]},
 "encoding":{"x":{"field":"d","type":"temporal"},"y":{"field":"v","type":"quantitative"},"color":{"field":"s","type":"nominal","legend":null}}},
{"data":{"name":"p"},
 "transform":[{"filter":"datum.s === '2'"}],
 "mark":{"type":"point","shape":"square","filled":true,"opacity":0.9,"size":65},
 "encoding":{"x":{"field":"d","type":"temporal"},"y":{"field":"v","type":"quantitative"},"color":{"field":"s","type":"nominal","legend":null}}},
{"data":{"name":"p"},
 "transform":[{"filter":"datum.s === '3'"}],
 "mark":{"type":"point","shape":"circle","filled":true,"opacity":0.9,"size":55},
 "encoding":{"x":{"field":"d","type":"temporal"},"y":{"field":"v","type":"quantitative"},"color":{"field":"s","type":"nominal","legend":null}}},
{"data":{"name":"ann"},
 "mark":{"type":"rule"},
 "encoding":{
  "x":{"field":"d1","type":"temporal"},"y":{"field":"v1","type":"quantitative"},
  "x2":{"field":"d2"},"y2":{"field":"v2"},
  "color":{"field":"s","type":"nominal","legend":null},
  "strokeWidth":{"field":"s","type":"nominal","scale":{"domain":["1","2","3"],"range":[4,2.5,2.5]},"legend":null},
  "opacity":{"field":"s","type":"nominal","scale":{"domain":["1","2","3"],"range":[1,0.8,0.65]},"legend":null}
 }},
{"data":{"name":"ann"},
 "transform":[{"filter":"datum.s === '1'"}],
 "mark":{"type":"point","shape":"triangle","angle":262,"filled":true,"size":160,"opacity":1},
 "encoding":{"x":{"field":"d2","type":"temporal"},"y":{"field":"v2","type":"quantitative"},"color":{"field":"s","type":"nominal","legend":null}}},
{"data":{"name":"ann"},
 "transform":[{"filter":"datum.s === '3'"}],
 "mark":{"type":"point","shape":"M-0.8,0.9L0,-0.9L0.8,0.9","angle":238,"filled":false,"strokeWidth":2.5,"size":130,"opacity":0.65},
 "encoding":{"x":{"field":"d2","type":"temporal"},"y":{"field":"v2","type":"quantitative"},"color":{"field":"s","type":"nominal","legend":null}}},
{"data":{"name":"ann"},
 "transform":[{"filter":"datum.s === '2'"}],
 "mark":{"type":"point","shape":"M-0.8,0.9L0,-0.9L0.8,0.9","angle":265,"filled":false,"strokeWidth":2.5,"size":130,"opacity":0.8},
 "encoding":{"x":{"field":"d2","type":"temporal"},"y":{"field":"v2","type":"quantitative"},"color":{"field":"s","type":"nominal","legend":null}}},
{"data":{"name":"ann"},
 "mark":{"type":"text","align":"left","baseline":"middle","fontWeight":"bold","fontSize":18,"font":"DejaVu Sans"},
 "encoding":{"x":{"field":"td","type":"temporal"},"y":{"field":"tv","type":"quantitative"},"text":{"field":"t"},"color":{"field":"s","type":"nominal","legend":null}}},
{"data":{"values":[{}]},
 "mark":{"type":"rule","color":"#888888","strokeWidth":3},
 "encoding":{"y":{"datum":257100}}}
]
}
